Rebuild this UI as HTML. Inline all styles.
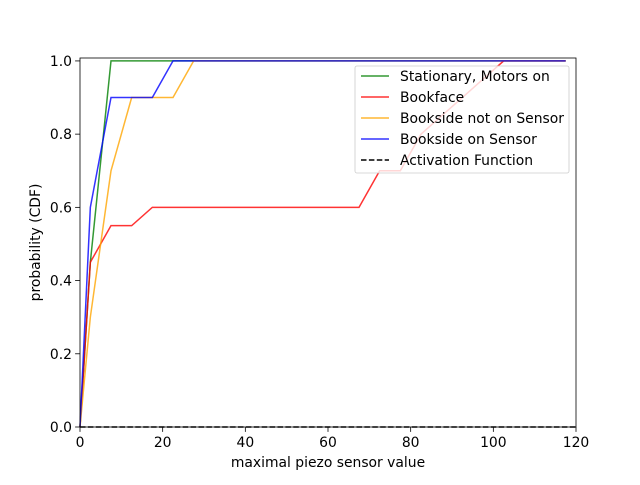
<!DOCTYPE html>
<html><head><meta charset="utf-8"><style>body{margin:0;background:#fff}svg{font-family:"DejaVu Sans","Liberation Sans",sans-serif}</style></head>
<body>
<svg id="chart" width="640" height="480" xmlns="http://www.w3.org/2000/svg"></svg>
<script>
const xs = [0,2.5,7.5,12.5,17.5,22.5,27.5,32.5,37.5,42.5,47.5,52.5,57.5,62.5,67.5,72.5,77.5,82.5,87.5,92.5,97.5,102.5,107.5,112.5,117.5];
const greenVals = [0,0.45,1,1,1,1,1,1,1,1,1,1,1,1,1,1,1,1,1,1,1,1,1,1,1];
const redVals = [0,0.45,0.55,0.55,0.6,0.6,0.6,0.6,0.6,0.6,0.6,0.6,0.6,0.6,0.6,0.7,0.7,0.8,0.85,0.9,0.95,1,1,1,1];
const orangeVals = [0,0.3,0.7,0.9,0.9,0.9,1,1,1,1,1,1,1,1,1,1,1,1,1,1,1,1,1,1,1];
const blueVals = [0,0.6,0.9,0.9,0.9,1,1,1,1,1,1,1,1,1,1,1,1,1,1,1,1,1,1,1,1];
const activationX = [0,120];
const activationY = [0,0];
const xTicks = [0,20,40,60,80,100,120];
const yTicks = [0,0.2,0.4,0.6,0.8,1.0];
const seriesNames = ["Stationary, Motors on","Bookface","Bookside not on Sensor","Bookside on Sensor","Activation Function"];

const L=80,R=576,T=58,B=427;
const FS=13.9;
const sx=v=>L+(v/120)*(R-L);
const sy=v=>B-(v/1.008)*(B-T);
const svg=document.getElementById('chart');
const NS='http://www.w3.org/2000/svg';
function mk(t,a,p){const e=document.createElementNS(NS,t);for(const k in a)e.setAttribute(k,a[k]);(p||svg).appendChild(e);return e;}

function line(xv,yv,color,name,dash){
  const p=mk('polyline',{points:xv.map((x,i)=>sx(x)+','+sy(yv[i])).join(' '),fill:'none',stroke:color,'stroke-width':1.5,'stroke-opacity':dash?1:0.8,'stroke-dasharray':dash||'none'});
  
  
}
line(xs,greenVals,'green','series-stationary-motors-on');
line(xs,redVals,'red','series-bookface');
line(xs,orangeVals,'orange','series-bookside-not-on-sensor');
line(xs,blueVals,'blue','series-bookside-on-sensor');
line(activationX,activationY,'black','series-activation-function','5.5,2.4');

const frame=mk('rect',{x:L,y:T,width:R-L,height:B-T,fill:'none',stroke:'#000','stroke-width':0.8});



xTicks.forEach(v=>{
  const x=sx(v);
  mk('line',{x1:x,x2:x,y1:B,y2:B+4.9,stroke:'#000','stroke-width':0.8});
  const t=mk('text',{x:x,y:B+20,'text-anchor':'middle','font-size':FS});t.textContent=v;
  
  
});
yTicks.forEach(v=>{
  const y=sy(v);
  mk('line',{x1:L-4.9,x2:L,y1:y,y2:y,stroke:'#000','stroke-width':0.8});
  const t=mk('text',{x:L-8,y:y+5,'text-anchor':'end','font-size':FS});t.textContent=v.toFixed(1);
  
  
});
const xt=mk('text',{x:(L+R)/2,y:467,'text-anchor':'middle','font-size':FS});xt.textContent='maximal piezo sensor value';


const yt=mk('text',{x:0,y:0,'text-anchor':'middle','font-size':FS,transform:'translate(40,'+((T+B)/2)+') rotate(-90)'});yt.textContent='probability (CDF)';



const lg=mk('g',{});


mk('rect',{x:355,y:66,width:214,height:107,rx:2,fill:'#fff','fill-opacity':0.8,stroke:'#ccc','stroke-width':0.8},lg);
const colors=['green','red','orange','blue','black'];
seriesNames.forEach((n,i)=>{
  const y=76+i*21;
  mk('line',{x1:361,x2:389,y1:y,y2:y,stroke:colors[i],'stroke-width':1.5,'stroke-dasharray':i==4?'5.5,2.4':'none','stroke-opacity':i==4?1:0.8},lg);
  const t=mk('text',{x:400,y:y+5,'font-size':FS},lg);t.textContent=n;
  
  
});
</script>
</body></html>
